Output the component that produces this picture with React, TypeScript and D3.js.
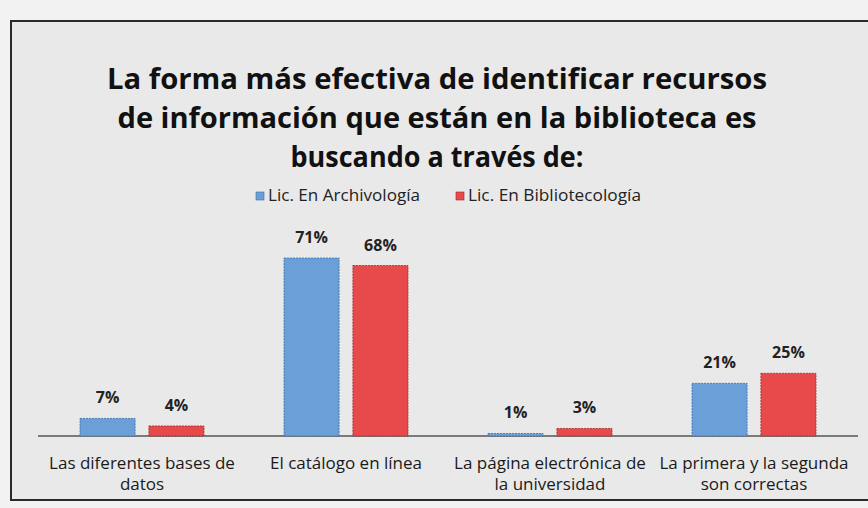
import React from "react";
import * as d3 from "d3";

const categories: string[][] = [
  ["Las diferentes bases de", "datos"],
  ["El catálogo en línea"],
  ["La página electrónica de", "la universidad"],
  ["La primera y la segunda", "son correctas"],
];
const seriesNames = ["Lic. En Archivología", "Lic. En Bibliotecología"];
const archivologia = [7, 71, 1, 21];
const bibliotecologia = [4, 68, 3, 25];
const titleLines = [
  "La forma más efectiva de identificar recursos",
  "de información que están en la biblioteca es",
  "buscando a través de:",
];

const W = 868;
const H = 508;
const colors = ["#6a9fd8", "#e8494b"];
const strokes = ["#3d6fa6", "#a12628"];
const FONT = "'Open Sans', Arial, sans-serif";

export default function App() {
  const baseY = 436;
  const x = d3.scaleBand<number>().domain(d3.range(categories.length)).range([40, 856]);
  const inner = d3.scaleBand<number>().domain([0, 1]).range([0, 124]).paddingInner(0.2);
  const y = d3.scaleLinear().domain([0, 71]).range([baseY, 258]);
  const series = [archivologia, bibliotecologia];
  const titleWidths = [660, 639, 293];

  return (
    <svg width={W} height={H} style={{ position: "absolute", left: 0, top: 0 }}>
      <rect x={0} y={0} width={W} height={H} fill="#f2f2f2" />
      <rect x={11} y={21} width={W - 8} height={479} fill="#e9e9e9" stroke="#2a2a2a" strokeWidth={2} />
      {titleLines.map((t, i) => (
        <text
          key={i}
          x={437}
          y={89 + i * 39}
          textAnchor="middle"
          fontFamily={FONT}
          fontWeight="bold"
          fontSize={29}
          fill="#111"
          textLength={titleWidths[i]}
          lengthAdjust="spacingAndGlyphs"
        >
          {t}
        </text>
      ))}
      {seriesNames.map((n, i) => {
        const lx = [256, 456][i];
        return (
          <g key={n}>
            <rect x={lx} y={192} width={8} height={8} fill={colors[i]} stroke={strokes[i]} strokeWidth={0.6} />
            <text x={lx + 12} y={201} fontFamily={FONT} fontSize={16} fill="#222"
              textLength={[152, 173][i]} lengthAdjust="spacingAndGlyphs">
              {n}
            </text>
          </g>
        );
      })}
      <line x1={38} x2={858} y1={baseY} y2={baseY} stroke="#555" strokeWidth={1.5} />
      {categories.map((lines, ci) => {
        const bx = x(ci)! + x.bandwidth() / 2 - 62;
        return (
          <g key={ci}>
            {series.map((s, si) => {
              const v = s[ci];
              const rx = bx + inner(si)!;
              const bw = inner.bandwidth();
              return (
                <g key={si}>
                  <rect x={rx} y={y(v)} width={bw} height={baseY - y(v)} fill={colors[si]}
                    stroke={strokes[si]} strokeWidth={0.8} strokeDasharray="2,1" />
                  <text x={rx + bw / 2} y={y(v) - 15} textAnchor="middle" fontFamily={FONT}
                    fontWeight="bold" fontSize={16} fill="#222">
                    {v}%
                  </text>
                </g>
              );
            })}
            {lines.map((l, li) => (
              <text key={li} x={x(ci)! + x.bandwidth() / 2} y={469 + li * 21} textAnchor="middle"
                fontFamily={FONT} fontSize={17} fill="#1a1a1a">
                {l}
              </text>
            ))}
          </g>
        );
      })}
    </svg>
  );
}
